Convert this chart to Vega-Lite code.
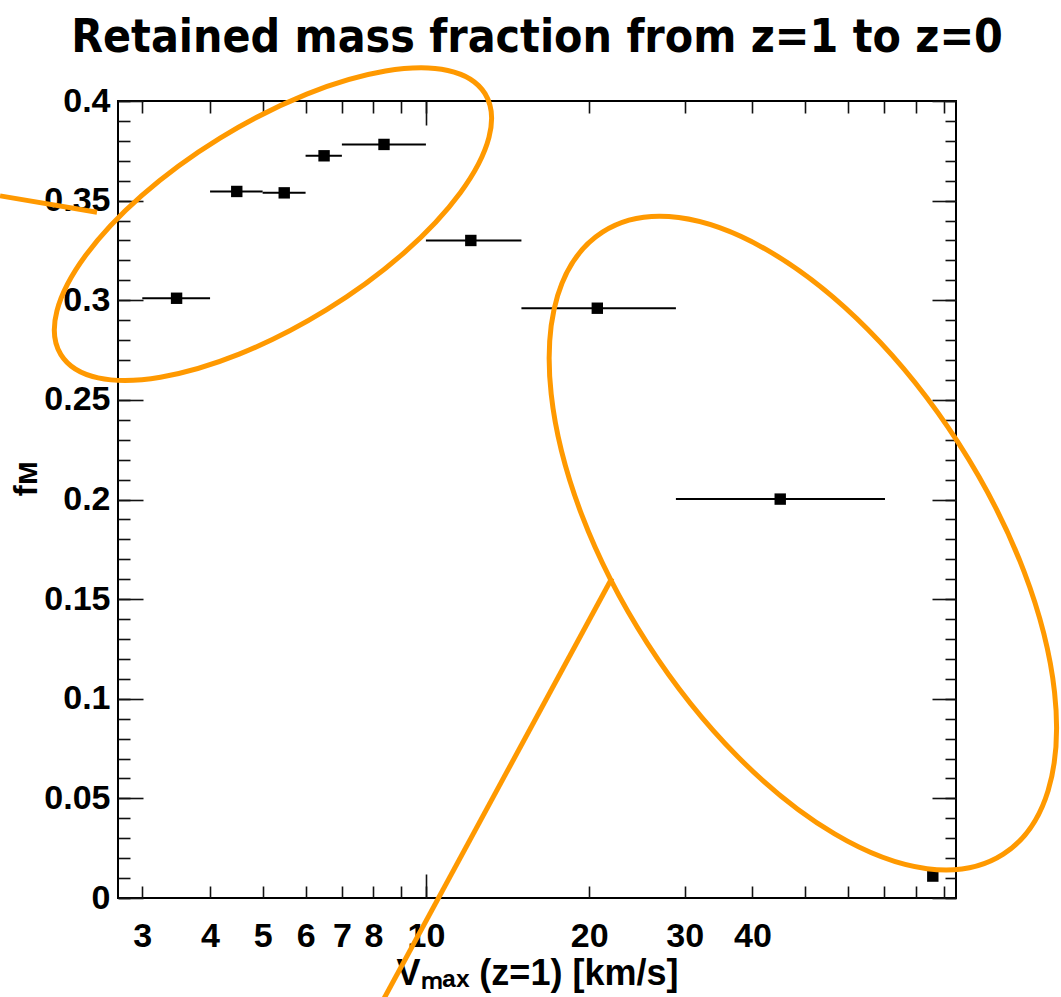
{
  "$schema": "https://vega.github.io/schema/vega-lite/v6.json",
  "width": 838,
  "height": 797,
  "autosize": {"type": "none"},
  "padding": {"left": 118, "top": 101, "right": 105, "bottom": 99},
  "background": "white",
  "title": {
    "text": "Retained mass fraction from z=1 to z=0",
    "font": "DejaVu Sans Condensed, DejaVu Sans",
    "fontSize": 46,
    "fontWeight": "bold",
    "color": "#000",
    "anchor": "middle",
    "frame": "group",
    "baseline": "alphabetic",
    "offset": -40
  },
  "datasets": {
    "bins": [
      {"v": 3.47, "lo": 3, "hi": 4, "f": 0.301},
      {"v": 4.48, "lo": 4, "hi": 5, "f": 0.3546},
      {"v": 5.48, "lo": 5, "hi": 6, "f": 0.3539},
      {"v": 6.49, "lo": 6, "hi": 7, "f": 0.3725},
      {"v": 8.37, "lo": 7, "hi": 10, "f": 0.3782},
      {"v": 12.1, "lo": 10, "hi": 15.0, "f": 0.330},
      {"v": 20.7, "lo": 15.0, "hi": 28.9, "f": 0.296},
      {"v": 45.0, "lo": 28.9, "hi": 70.2, "f": 0.2002},
      {"v": 86.0, "lo": null, "hi": null, "f": 0.011}
    ],
    "ellipse_a": [{"cx": 5.224, "cy": 0.3382}],
    "ellipse_b": [{"cx": 49.54, "cy": 0.1781}],
    "callouts": [
      {"xa": 1.64, "ya": 0.3524, "xb": 2.475, "yb": 0.3442},
      {"xa": 22.03, "ya": 0.1606, "xb": 8.16, "yb": -0.056}
    ]
  },
  "resolve": {
    "scale": {"x": "shared", "y": "shared"},
    "axis": {"x": "independent", "y": "independent"}
  },
  "layer": [
    {
      "data": {"name": "bins"},
      "mark": {"type": "rule", "color": "#000", "strokeWidth": 2},
      "encoding": {
        "x": {
          "field": "lo", "type": "quantitative",
          "scale": {"type": "log", "domain": [2.706, 94.9], "nice": false},
          "axis": {
            "orient": "bottom",
            "values": [3, 4, 5, 6, 7, 8, 9, 10, 20, 30, 40, 50, 60, 70, 80, 90],
            "tickSize": -12,
            "labelPadding": 33,
            "format": "d",
            "labelExpr": "indexof([3,4,5,6,7,8,10,20,30,40], datum.value) >= 0 ? datum.label : ''",
            "title": "Vₘₐₓ (z=1) [km/s]",
            "titleFontSize": 36,
            "titlePadding": 3
          }
        },
        "x2": {"field": "hi"},
        "y": {
          "field": "f", "type": "quantitative",
          "scale": {"domain": [0, 0.4], "nice": false, "zero": false},
          "axis": {
            "orient": "left",
            "values": [0,0.01,0.02,0.03,0.04,0.05,0.06,0.07,0.08,0.09,0.1,0.11,0.12,0.13,0.14,0.15,0.16,0.17,0.18,0.19,0.2,0.21,0.22,0.23,0.24,0.25,0.26,0.27,0.28,0.29,0.3,0.31,0.32,0.33,0.34,0.35,0.36,0.37,0.38,0.39,0.4],
            "tickSize": -12,
            "labelPadding": 20,
            "format": "~g",
            "labelExpr": "abs(datum.value * 20 - round(datum.value * 20)) < 0.001 ? datum.label : ''",
            "title": "fᴍ",
            "titleFontSize": 33,
            "titlePadding": 0,
            "titleY": 377
          }
        }
      }
    },
    {
      "data": {"name": "bins"},
      "mark": {"type": "point", "shape": "square", "filled": true, "color": "#000", "size": 130, "opacity": 1},
      "encoding": {
        "x": {
          "field": "v", "type": "quantitative",
          "scale": {"type": "log", "domain": [2.706, 94.9], "nice": false},
          "axis": {"orient": "bottom", "values": [10], "tickSize": -24, "labels": false, "title": null}
        },
        "y": {
          "field": "f", "type": "quantitative",
          "scale": {"domain": [0, 0.4], "nice": false, "zero": false},
          "axis": {"orient": "left", "values": [0,0.05,0.1,0.15,0.2,0.25,0.3,0.35,0.4], "tickSize": -25, "labels": false, "title": null}
        }
      }
    },
    {
      "data": {"name": "ellipse_a"},
      "mark": {
        "type": "point",
        "shape": "M-1,0A1,0.4056,0,1,0,1,0A1,0.4056,0,1,0,-1,0Z",
        "size": 248004,
        "angle": 328.4,
        "filled": false,
        "stroke": "#ff9900",
        "strokeWidth": 5,
        "opacity": 1
      },
      "encoding": {
        "x": {
          "field": "cx", "type": "quantitative",
          "scale": {"type": "log", "domain": [2.706, 94.9], "nice": false},
          "axis": {"orient": "top", "values": [3, 4, 5, 6, 7, 8, 9, 10, 20, 30, 40, 50, 60, 70, 80, 90], "tickSize": -12, "labels": false, "title": null}
        },
        "y": {
          "field": "cy", "type": "quantitative",
          "scale": {"domain": [0, 0.4], "nice": false, "zero": false},
          "axis": {
            "orient": "right",
            "values": [0,0.01,0.02,0.03,0.04,0.05,0.06,0.07,0.08,0.09,0.1,0.11,0.12,0.13,0.14,0.15,0.16,0.17,0.18,0.19,0.2,0.21,0.22,0.23,0.24,0.25,0.26,0.27,0.28,0.29,0.3,0.31,0.32,0.33,0.34,0.35,0.36,0.37,0.38,0.39,0.4],
            "tickSize": -11, "labels": false, "title": null
          }
        }
      }
    },
    {
      "data": {"name": "ellipse_b"},
      "mark": {
        "type": "point",
        "shape": "M-1,0A1,0.5,0,1,0,1,0A1,0.5,0,1,0,-1,0Z",
        "size": 547600,
        "angle": 57.2,
        "filled": false,
        "stroke": "#ff9900",
        "strokeWidth": 5,
        "opacity": 1
      },
      "encoding": {
        "x": {
          "field": "cx", "type": "quantitative",
          "scale": {"type": "log", "domain": [2.706, 94.9], "nice": false},
          "axis": {"orient": "top", "values": [10], "tickSize": -24, "labels": false, "title": null}
        },
        "y": {
          "field": "cy", "type": "quantitative",
          "scale": {"domain": [0, 0.4], "nice": false, "zero": false},
          "axis": {"orient": "right", "values": [0,0.05,0.1,0.15,0.2,0.25,0.3,0.35,0.4], "tickSize": -24, "labels": false, "title": null}
        }
      }
    },
    {
      "data": {"name": "callouts"},
      "mark": {"type": "rule", "stroke": "#ff9900", "strokeWidth": 5},
      "encoding": {
        "x": {"field": "xa", "type": "quantitative", "scale": {"type": "log", "domain": [2.706, 94.9], "nice": false}, "axis": null},
        "x2": {"field": "xb"},
        "y": {"field": "ya", "type": "quantitative", "scale": {"domain": [0, 0.4], "nice": false, "zero": false}, "axis": null},
        "y2": {"field": "yb"}
      }
    }
  ],
  "config": {
    "view": {"stroke": "#000", "strokeWidth": 2},
    "axis": {
      "labelFont": "Liberation Sans",
      "labelFontWeight": "bold",
      "labelFontSize": 34,
      "labelColor": "#000",
      "titleFont": "Liberation Sans",
      "titleFontWeight": "bold",
      "titleFontSize": 34,
      "titleColor": "#000",
      "tickColor": "#111",
      "tickWidth": 1.6,
      "domain": false,
      "grid": false,
      "labelOverlap": false,
      "labelFlush": false,
      "labelBound": false
    }
  }
}
